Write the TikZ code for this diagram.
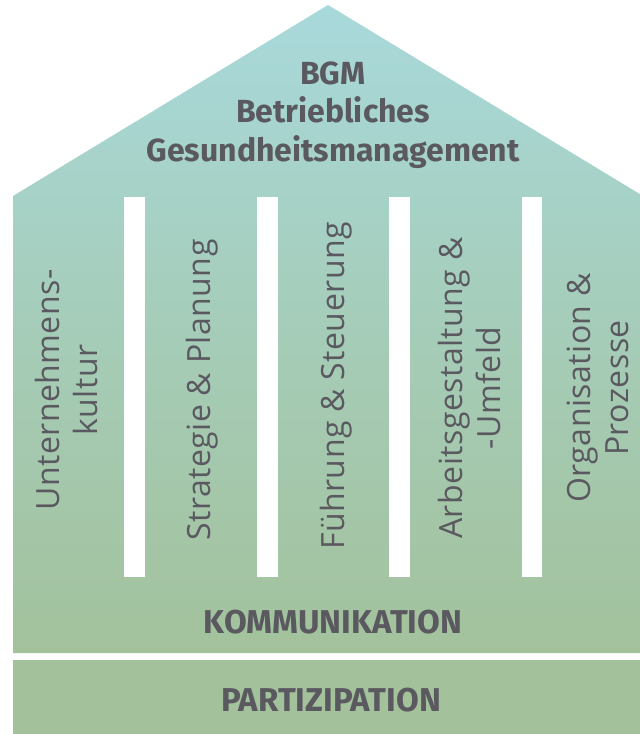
\documentclass[tikz,border=0pt]{standalone}
\usepackage{fontspec}
\setmainfont[LetterSpace=1.5]{Open Sans}
\newfontfamily\headfont{Fira Sans}
\usetikzlibrary{positioning}
\definecolor{roofcyan}{HTML}{A8D9DB}
\definecolor{basegreen}{HTML}{A3C29C}
\definecolor{textgray}{HTML}{5B5960}
\tikzstyle{title} = [text=textgray, font=\headfont\bfseries\fontsize{32}{38.5}\selectfont, align=center]
\tikzstyle{band} = [text=textgray, font=\headfont\bfseries\fontsize{33}{38}\selectfont]
\tikzstyle{pillar} = [text=textgray, font=\fontsize{32}{38}\selectfont, align=center, rotate=90]
\tikzstyle{column} = [fill=white]

\begin{document}
\begin{tikzpicture}[x=1pt, y=-1pt]

\clip (0,0) rectangle (640,734);
\fill[white] (0,0) rectangle (640,734);

% house with roof
\shade[top color=roofcyan, bottom color=basegreen, middle color=roofcyan!45!basegreen]
  (13,196) -- (328,5) -- (643,196) -- (643,653) -- (13,653) -- cycle;
\fill[basegreen] (13,660) rectangle (643,734);

% white columns
\foreach \x/\w in {124/21, 257/21, 389/21, 522/20}
  \fill[column] (\x,197) rectangle ++(\w,380);

\node (bgm) [title] at (333,115) {BGM\\Betriebliches\\Gesundheitsmanagement};

\node (kultur) [pillar] at (66,390) {Unternehmens-\\kultur};
\node (strategie) [pillar] at (202,390) {Strategie \& Planung};
\node (fuehrung) [pillar] at (336,386) {Führung \& Steuerung};
\node (arbeit) [pillar] at (469,388) {Arbeitsgestaltung \&\\-Umfeld};
\node (orga) [pillar] at (598,388) {Organisation \&\\Prozesse};

\node (kommunikation) [band] at (333,622) {KOMMUNIKATION};
\node (partizipation) [band] at (331,700) {PARTIZIPATION};

\end{tikzpicture}
\end{document}
